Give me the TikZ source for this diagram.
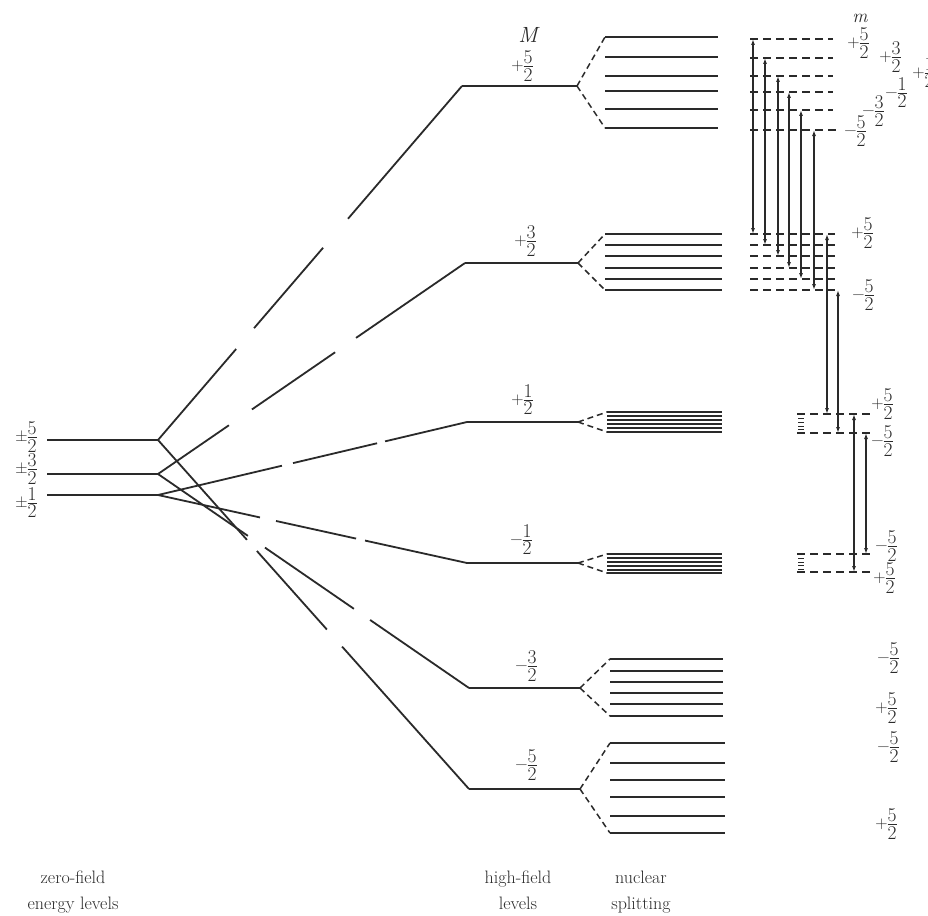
\documentclass[tikz,border=0pt]{standalone}
\usepackage{amsmath}
\usepackage{fontspec}
\usetikzlibrary{calc,arrows.meta}
\definecolor{ink}{HTML}{2A2A2A}
\newcommand\heavy{\addfontfeature{FakeBold=2}}
\newcommand\dg{\fontsize{19.5}{19.5}\selectfont\heavy}
\newcommand\fr[2]{\ensuremath{\vcenter{\offinterlineskip\halign{\hfil##\hfil\cr\dg #1\cr\noalign{\kern1.6pt\hrule height0.9pt\kern1.6pt}\dg #2\cr}}}}
\newcommand\mns{\char"2212\relax}
\newcommand\pmn{\char"00B1\relax}
% broken connector: from #1 to #2 with gaps [#3,#4] and [#5,#6]
\newcommand\brk[6]{%
  \draw[hl] (#1) -- ($(#1)!#3!(#2)$);
  \draw[hl] ($(#1)!#4!(#2)$) -- ($(#1)!#5!(#2)$);
  \draw[hl] ($(#1)!#6!(#2)$) -- (#2);}
\begin{document}
\begin{tikzpicture}[x=1pt,y=-1pt,
  lvl/.style={line width=1.9pt,draw=ink},
  hl/.style={line width=1.8pt,draw=ink},
  split/.style={line width=1.5pt,draw=ink,dash pattern=on 6pt off 4pt},
  rowd/.style={line width=1.4pt,draw=ink,dash pattern=on 8pt off 5pt},
  tick/.style={line width=0.9pt,draw=ink},
  tr/.style={line width=1.3pt,draw=ink,{Latex[length=6pt,width=4pt]}-{Latex[length=6pt,width=4pt]}},
  lab/.style={font=\fontsize{17}{19}\selectfont\heavy,text=ink,inner sep=0pt},
  captxt/.style={font=\fontsize{18}{20}\selectfont\heavy,text=ink,anchor=base,inner sep=0pt}]
\fill[white] (0,0) rectangle (928,915);
\useasboundingbox (0,0) rectangle (928,915);

% zero-field levels
\coordinate (z5a) at (47,440); \coordinate (z5) at (158,440);
\coordinate (z3a) at (47,474); \coordinate (z3) at (158,474);
\coordinate (z1a) at (47,495); \coordinate (z1) at (158,495);
\draw[lvl] (z5a) -- (z5);
\draw[lvl] (z3a) -- (z3);
\draw[lvl] (z1a) -- (z1);
\node[lab] (lz5) at (26,437) {\pmn\fr52};
\node[lab] (lz3) at (26,469) {\pmn\fr32};
\node[lab] (lz1) at (26,503) {\pmn\fr12};

% high-field levels
\coordinate (h5a) at (462,86);  \coordinate (h5b) at (577,86);
\coordinate (h3a) at (465,263); \coordinate (h3b) at (578,263);
\coordinate (h1a) at (467,422); \coordinate (h1b) at (578,422);
\coordinate (m1a) at (467,563); \coordinate (m1b) at (578,563);
\coordinate (m3a) at (469,688); \coordinate (m3b) at (580,688);
\coordinate (m5a) at (469,789); \coordinate (m5b) at (580,789);
\draw[lvl] (h5a) -- (h5b);
\draw[lvl] (h3a) -- (h3b);
\draw[lvl] (h1a) -- (h1b);
\draw[lvl] (m1a) -- (m1b);
\draw[lvl] (m3a) -- (m3b);
\draw[lvl] (m5a) -- (m5b);
\node[lab,font=\fontsize{22}{24}\selectfont\itshape\heavy] (lM) at (528,35) {M};
\node[lab] (lh5) at (522,66) {+\fr52};
\node[lab] (lh3) at (525,241) {+\fr32};
\node[lab] (lh1) at (522,400) {+\fr12};
\node[lab] (lm1) at (521,540) {\mns\fr12};
\node[lab] (lm3) at (526,666) {\mns\fr32};
\node[lab] (lm5) at (526,765) {\mns\fr52};

% connectors zero-field -> high-field
\brk{z5}{h5a}{0.257}{0.316}{0.543}{0.625}
\brk{z3}{h3a}{0.231}{0.306}{0.577}{0.645}
\brk{z1}{h1a}{0.401}{0.437}{0.709}{0.735}
\brk{z1}{m1a}{0.330}{0.382}{0.641}{0.670}
\brk{z3}{m3a}{0.289}{0.344}{0.630}{0.682}
\brk{z5}{m5a}{0.286}{0.318}{0.543}{0.592}

% nuclear splitting
\coordinate (n5t) at (605,37);  \coordinate (n5b) at (605,128);
\coordinate (n3t) at (605,234); \coordinate (n3b) at (605,290);
\coordinate (n1t) at (607,412); \coordinate (n1b) at (607,432);
\coordinate (k1t) at (607,554); \coordinate (k1b) at (607,573);
\coordinate (k3t) at (610,659); \coordinate (k3b) at (610,716);
\coordinate (k5t) at (610,743); \coordinate (k5b) at (610,833);
\draw[split] (h5b) -- (n5t); \draw[split] (h5b) -- (n5b);
\draw[split] (h3b) -- (n3t); \draw[split] (h3b) -- (n3b);
\draw[split] (h1b) -- (n1t); \draw[split] (h1b) -- (n1b);
\draw[split] (m1b) -- (k1t); \draw[split] (m1b) -- (k1b);
\draw[split] (m3b) -- (k3t); \draw[split] (m3b) -- (k3b);
\draw[split] (m5b) -- (k5t); \draw[split] (m5b) -- (k5b);
\foreach \y in {37,57,76,91,109,128} \draw[lvl] (605,\y) -- (718,\y);
\foreach \y in {234,245,256,268,279,290} \draw[lvl] (605,\y) -- (722,\y);
\foreach \y in {412,416,420,424,428,432} \draw[line width=1.7pt,draw=ink] (607,\y) -- (722,\y);
\foreach \y in {554,558,562,566,570,573} \draw[line width=1.7pt,draw=ink] (607,\y) -- (722,\y);
\foreach \y in {659,671,682,693,704,716} \draw[lvl] (610,\y) -- (723,\y);
\foreach \y in {743,763,780,797,816,833} \draw[lvl] (610,\y) -- (725,\y);

% right side: sublevel rows
\foreach \y in {39,58,76,92,110} \draw[rowd] (750,\y) -- (833,\y);
\draw[rowd] (750,130) -- (840,130);
\foreach \y in {234,245,256,268,279,290} \draw[rowd] (750,\y) -- (835,\y);
\draw[rowd] (797,414) -- (872,414);
\draw[rowd] (797,433) -- (872,433);
\draw[rowd] (797,554) -- (872,554);
\draw[rowd] (797,572) -- (872,572);
\foreach \y in {418,422,426,429} \draw[tick] (798,\y) -- (804,\y);
\foreach \y in {558,562,565,569} \draw[tick] (798,\y) -- (804,\y);

% transitions
\foreach \x/\ya/\yb [count=\i] in {753/39/234,765/58/245,778/76/256,789/92/268,801/110/279,814/130/290,827/234/414,838/290/433,854/414/572,866/433/554}{
  \coordinate (ta\i) at (\x,\ya); \coordinate (tb\i) at (\x,\yb);
  \draw[tr] (ta\i) -- (tb\i);}

% right labels
\node[lab,font=\fontsize{19}{21}\selectfont\itshape\heavy] (lm) at (860,18) {m};
\node[lab] (r1) at (858,43) {+\fr52};
\node[lab] (r2) at (890,57) {+\fr32};
\node[lab] (r3) at (923,73) {+\fr12};
\node[lab] (r4) at (896,93) {\mns\fr12};
\node[lab] (r5) at (873,111) {\mns\fr32};
\node[lab] (r6) at (855,131) {\mns\fr52};
\node[lab] (s1) at (862,233) {+\fr52};
\node[lab] (s2) at (863,295) {\mns\fr52};
\node[lab] (u1) at (882,404) {+\fr52};
\node[lab] (u2) at (882,441) {\mns\fr52};
\node[lab] (v1) at (886,546) {\mns\fr52};
\node[lab] (v2) at (884,578) {+\fr52};
\node[lab] (w1) at (888,658) {\mns\fr52};
\node[lab] (w2) at (886,708) {+\fr52};
\node[lab] (w3) at (888,747) {\mns\fr52};
\node[lab] (w4) at (886,824) {+\fr52};

% captions
\node[captxt] (c1) at (73,883) {zero-field};
\node[captxt] (c2) at (73,909) {energy levels};
\node[captxt] (c3) at (518,883) {high-field};
\node[captxt] (c4) at (518,909) {levels};
\node[captxt] (c5) at (641,883) {nuclear};
\node[captxt] (c6) at (641,909) {splitting};
\end{tikzpicture}
\end{document}
